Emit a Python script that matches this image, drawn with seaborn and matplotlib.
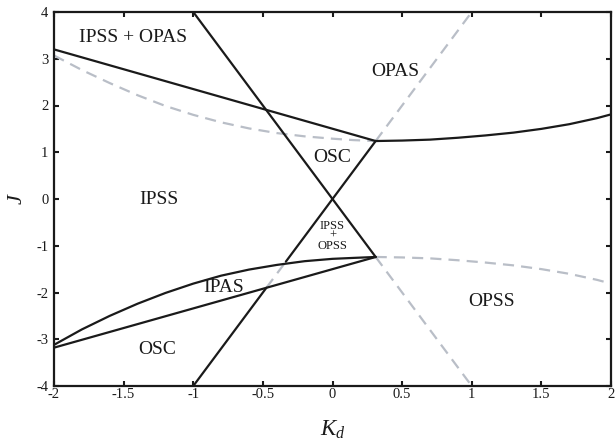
import numpy as np
import pandas as pd
import matplotlib
matplotlib.use("Agg")
import matplotlib.pyplot as plt
import seaborn as sns

# ---- data ----
# straight line J = -4 Kd (solid part, then dashed continuation)
down_solid_x = [-1.0, 0.31]
down_solid_y = [4.0, -1.24]
down_dash_x = [0.31, 1.0]
down_dash_y = [-1.24, -4.0]

# straight line J = 4 Kd (solid / dashed / solid / dashed pieces)
up_solid1_x = [-1.0, -0.475]
up_solid1_y = [-4.0, -1.90]
up_dash1_x = [-0.475, -0.335]
up_dash1_y = [-1.90, -1.34]
up_solid2_x = [-0.335, 0.31]
up_solid2_y = [-1.34, 1.24]
up_dash2_x = [0.31, 1.0]
up_dash2_y = [1.24, 4.0]

# straight boundaries from the left edge to the vertices
upper_line_x = [-2.0, 0.31]
upper_line_y = [3.20, 1.24]
lower_line_x = [-2.0, 0.31]
lower_line_y = [-3.18, -1.24]

# curved boundaries
upper_curve_left_x = [-2.0, -1.8, -1.6, -1.4, -1.2, -1.0, -0.8, -0.6, -0.4, -0.2, 0.0, 0.15, 0.31]
upper_curve_left_y = [3.07, 2.76, 2.48, 2.22, 1.99, 1.80, 1.64, 1.51, 1.41, 1.34, 1.29, 1.26, 1.24]
upper_curve_right_x = [0.31, 0.5, 0.7, 0.9, 1.1, 1.3, 1.5, 1.7, 1.9, 2.0]
upper_curve_right_y = [1.24, 1.25, 1.27, 1.31, 1.36, 1.42, 1.50, 1.60, 1.73, 1.81]
lower_curve_left_x = [-2.0, -1.8, -1.6, -1.4, -1.2, -1.0, -0.8, -0.6, -0.4, -0.2, 0.0, 0.15, 0.31]
lower_curve_left_y = [-3.12, -2.79, -2.50, -2.24, -2.01, -1.81, -1.64, -1.51, -1.41, -1.33, -1.28, -1.26, -1.24]
lower_curve_right_x = [0.31, 0.5, 0.7, 0.9, 1.1, 1.3, 1.5, 1.7, 1.9, 2.0]
lower_curve_right_y = [-1.24, -1.25, -1.27, -1.31, -1.36, -1.42, -1.50, -1.60, -1.73, -1.81]

# region labels
region_labels = ["IPSS + OPAS", "OPAS", "OSC", "IPSS", "IPAS", "OSC", "OPSS"]
region_x = [-1.43, 0.45, 0.0, -1.25, -0.78, -1.26, 1.14]
region_y = [3.46, 2.73, 0.89, 0.0, -1.89, -3.21, -2.19]
small_label = "IPSS\n+\nOPSS"
small_x = 0.0
small_y = -0.79

x_ticks = [-2, -1.5, -1, -0.5, 0, 0.5, 1, 1.5, 2]
x_ticklabels = ["-2", "-1.5", "-1", "-0.5", "0", "0.5", "1", "1.5", "2"]
y_ticks = [-4, -3, -2, -1, 0, 1, 2, 3, 4]
y_ticklabels = ["-4", "-3", "-2", "-1", "0", "1", "2", "3", "4"]

# ---- style ----
sns.set_theme(style="ticks")
plt.rcParams["font.family"] = ["Liberation Serif", "DejaVu Serif"]
plt.rcParams["mathtext.fontset"] = "custom"
plt.rcParams["mathtext.rm"] = "Liberation Serif"
plt.rcParams["mathtext.it"] = "Liberation Serif:italic"
plt.rcParams["axes.unicode_minus"] = False

BLACK = "#1a1a1a"
GREY = "#b9bec7"
LW = 1.6

fig = plt.figure(figsize=(6.15, 4.41), dpi=100)
ax = fig.add_axes([54 / 615, 1 - 386 / 441, (611 - 54) / 615, (386 - 12) / 441])

solid = [
    (down_solid_x, down_solid_y),
    (up_solid1_x, up_solid1_y),
    (up_solid2_x, up_solid2_y),
    (upper_line_x, upper_line_y),
    (lower_line_x, lower_line_y),
    (upper_curve_right_x, upper_curve_right_y),
    (lower_curve_left_x, lower_curve_left_y),
]
dashed = [
    (down_dash_x, down_dash_y),
    (up_dash1_x, up_dash1_y),
    (up_dash2_x, up_dash2_y),
    (upper_curve_left_x, upper_curve_left_y),
    (lower_curve_right_x, lower_curve_right_y),
]

for xs, ys in dashed:
    sns.lineplot(x=xs, y=ys, ax=ax, color=GREY, linewidth=LW,
                 linestyle=(0, (5, 3.2)), estimator=None, sort=False)
for xs, ys in solid:
    sns.lineplot(x=xs, y=ys, ax=ax, color=BLACK, linewidth=LW,
                 estimator=None, sort=False, solid_capstyle="round",
                 solid_joinstyle="round")

for lab, xx, yy in zip(region_labels, region_x, region_y):
    ax.text(xx, yy, lab, ha="center", va="center", fontsize=14, color=BLACK)
ax.text(small_x, small_y, small_label, ha="center", va="center",
        fontsize=9, color=BLACK, linespacing=0.75)

ax.set_xlim(-2, 2)
ax.set_ylim(-4, 4)
ax.set_xticks(x_ticks)
ax.set_xticklabels(x_ticklabels)
ax.set_yticks(y_ticks)
ax.set_yticklabels(y_ticklabels)

for sp in ax.spines.values():
    sp.set_visible(True)
    sp.set_linewidth(1.6)
    sp.set_color(BLACK)

ax.tick_params(axis="both", direction="in", length=3.5, width=1.5,
               colors=BLACK, labelsize=10.5, top=True, right=True)
ax.tick_params(axis="x", pad=1.5)
ax.tick_params(axis="y", pad=4)

ax.set_xlabel("$K_d$", fontsize=16.5, labelpad=13, color=BLACK)
ax.set_ylabel("$J$", fontsize=16, labelpad=7, color=BLACK)

fig.savefig("out.png", dpi=100)
